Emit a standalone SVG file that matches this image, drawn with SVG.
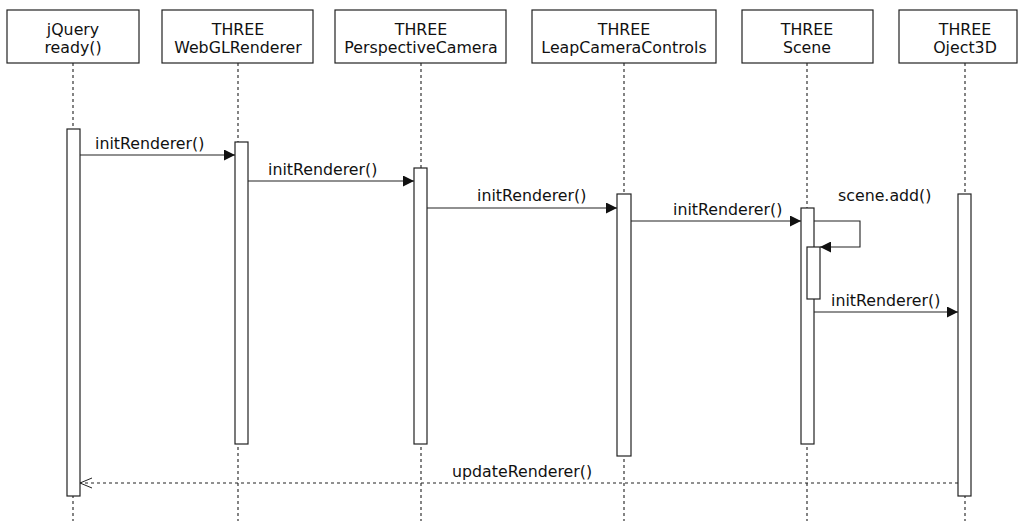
<svg xmlns="http://www.w3.org/2000/svg" width="1019" height="521" viewBox="0 0 1019 521">
  <style>
    .head { fill: #fff; stroke: #222; stroke-width: 1.2; }
    .life { stroke: #333; stroke-width: 1.2; stroke-dasharray: 3 3; fill: none; }
    .act { fill: #fff; stroke: #222; stroke-width: 1.2; }
    .msg { stroke: #222; stroke-width: 1.1; fill: none; }
    .ret { stroke: #222; stroke-width: 1.1; fill: none; stroke-dasharray: 3 3; }
    text { font-family: "DejaVu Sans", Verdana, sans-serif; font-size: 15.8px; fill: #111; }
    .c { text-anchor: middle; }
  </style>
  <defs>
    <marker id="solid" markerWidth="12" markerHeight="11" refX="11" refY="5.5" orient="auto" markerUnits="userSpaceOnUse">
      <path d="M0,0 L11,5.5 L0,11 Z" fill="#111"/>
    </marker>
    <marker id="open" markerWidth="14" markerHeight="12" refX="13" refY="6" orient="auto" markerUnits="userSpaceOnUse">
      <path d="M1,1 L13,6 L1,11" fill="none" stroke="#222" stroke-width="1"/>
    </marker>
  </defs>

  <rect width="1019" height="521" fill="#fff"/>

  <!-- lifelines -->
  <g id="lifelines">
    <line class="life" x1="73" y1="63" x2="73" y2="521"/>
    <line class="life" x1="238" y1="63" x2="238" y2="521"/>
    <line class="life" x1="421" y1="63" x2="421" y2="521"/>
    <line class="life" x1="624" y1="63" x2="624" y2="521"/>
    <line class="life" x1="807" y1="63" x2="807" y2="521"/>
    <line class="life" x1="965" y1="63" x2="965" y2="521"/>
  </g>

  <!-- participants -->
  <g id="jquery">
    <rect class="head" x="7" y="10" width="132" height="53"/>
    <text class="c" x="73" y="35">jQuery</text>
    <text class="c" x="73" y="53">ready()</text>
    <rect class="act" x="67" y="129" width="13" height="367"/>
  </g>
  <g id="webglrenderer">
    <rect class="head" x="162" y="10" width="151" height="53"/>
    <text class="c" x="238" y="35">THREE</text>
    <text class="c" x="238" y="53">WebGLRenderer</text>
    <rect class="act" x="235" y="142" width="13" height="302"/>
  </g>
  <g id="perspectivecamera">
    <rect class="head" x="335" y="10" width="171" height="53"/>
    <text class="c" x="421" y="35">THREE</text>
    <text class="c" x="421" y="53">PerspectiveCamera</text>
    <rect class="act" x="414" y="168" width="13" height="276"/>
  </g>
  <g id="leapcameracontrols">
    <rect class="head" x="532" y="10" width="184" height="53"/>
    <text class="c" x="624" y="35">THREE</text>
    <text class="c" x="624" y="53">LeapCameraControls</text>
    <rect class="act" x="617" y="194" width="14" height="262"/>
  </g>
  <g id="scene">
    <rect class="head" x="742" y="10" width="131" height="53"/>
    <text class="c" x="807" y="35">THREE</text>
    <text class="c" x="807" y="53">Scene</text>
    <rect class="act" x="801" y="208" width="13" height="236"/>
    <rect class="act" x="807" y="247" width="13" height="52"/>
  </g>
  <g id="object3d">
    <rect class="head" x="899" y="10" width="118" height="53"/>
    <text class="c" x="965" y="35">THREE</text>
    <text class="c" x="965" y="53">Oject3D</text>
    <rect class="act" x="958" y="194" width="13" height="302"/>
  </g>

  <!-- messages -->
  <g id="connectors">
    <line class="msg" x1="80" y1="155" x2="235" y2="155" marker-end="url(#solid)"/>
    <text x="95" y="149">initRenderer()</text>

    <line class="msg" x1="248" y1="181" x2="414" y2="181" marker-end="url(#solid)"/>
    <text x="268" y="175">initRenderer()</text>

    <line class="msg" x1="427" y1="208" x2="617" y2="208" marker-end="url(#solid)"/>
    <text x="477" y="201">initRenderer()</text>

    <line class="msg" x1="631" y1="221" x2="801" y2="221" marker-end="url(#solid)"/>
    <text x="673" y="215">initRenderer()</text>

    <polyline class="msg" points="814,221 860,221 860,247 820,247" marker-end="url(#solid)"/>
    <text x="838" y="201">scene.add()</text>

    <line class="msg" x1="814" y1="312" x2="958" y2="312" marker-end="url(#solid)"/>
    <text x="831" y="306">initRenderer()</text>

    <line class="ret" x1="958" y1="483" x2="80" y2="483" marker-end="url(#open)"/>
    <text x="452" y="477">updateRenderer()</text>
  </g>
</svg>
